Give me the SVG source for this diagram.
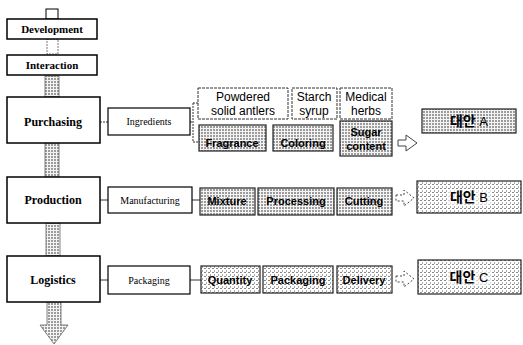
<svg xmlns="http://www.w3.org/2000/svg" width="523" height="345" viewBox="0 0 523 345">
<defs>
<pattern id="hatch" width="3" height="3" patternUnits="userSpaceOnUse"><rect width="3" height="3" fill="#f4f4f4"/><rect width="2" height="2" fill="#9c9c9c"/></pattern>
<pattern id="light" width="4" height="4" patternUnits="userSpaceOnUse"><rect width="4" height="4" fill="#fff"/><rect width="2" height="1" fill="#888"/><rect x="2" y="2" width="1" height="2" fill="#aaa"/></pattern>
</defs>
<style>
.main{fill:#fff;stroke:#000;stroke-width:1.5}
.mt{font-family:"Liberation Serif",serif;font-weight:bold;fill:#000;text-anchor:middle}
.sub{fill:#fff;stroke:#000;stroke-width:1.2}
.st{font-family:"Liberation Serif",serif;font-size:10px;fill:#000;text-anchor:middle}
.wb{fill:#fff;stroke:#333;stroke-width:1;stroke-dasharray:3 1}
.gb{fill:url(#hatch);stroke:#222;stroke-width:1.2}
.lb{fill:url(#light);stroke:#222;stroke-width:1.2}
.at{font-family:"Liberation Sans",sans-serif;font-size:12px;fill:#000;text-anchor:middle}
.bt{font-family:"Liberation Sans",sans-serif;font-size:11px;font-weight:bold;fill:#000;text-anchor:middle}
.kt{font-family:"Liberation Sans","Noto Sans CJK KR",sans-serif;font-size:13px;fill:#000;text-anchor:middle}
.ln{fill:none;stroke:#333;stroke-width:1}
.ha{fill:#fff;stroke:#444;stroke-width:1}
.vc{fill:url(#hatch);stroke:#666;stroke-width:0.8}
</style>
<g id="connectors">
<rect x="46" y="9" width="12" height="10" fill="#fff" stroke="#000" stroke-width="1"/>
<rect x="47" y="39" width="11" height="15" fill="#fff" stroke="#555" stroke-width="0.8" stroke-dasharray="2 1"/>
<rect class="vc" x="45" y="76" width="14" height="21"/>
<rect class="vc" x="45" y="143" width="14" height="34"/>
<rect class="vc" x="46" y="223" width="14" height="33"/>
<path class="vc" d="M47 302 H61 V325 H68 L54 344 L40 325 H47 Z"/>
<path class="ln" d="M100 122 H108 M190 122 H193 M193 103 V142 M193 103 H198 M193 142 H198" stroke-dasharray="2 1"/>
<path class="ln" d="M100 200 H108 M192 200 H200"/>
<path class="ln" d="M100 280 H108 M190 280 H201"/>
<path class="ha" d="M398 140 H406 V135 L417 143 L406 151 V146 H398 Z"/>
<path class="ha" d="M396 195 H404 V190 L414 198 L404 206 V201 H396 Z" stroke-dasharray="2 2"/>
<path class="ha" d="M396 276 H404 V271 L414 279 L404 287 V282 H396 Z" stroke-dasharray="2 2"/>
</g>
<g id="development"><rect class="main" x="7" y="19" width="90" height="20"/><text class="mt" x="52" y="33" font-size="11">Development</text></g>
<g id="interaction"><rect class="main" x="7" y="55" width="90" height="20"/><text class="mt" x="52" y="69" font-size="11">Interaction</text></g>
<g id="purchasing"><rect class="main" x="7" y="97" width="93" height="46"/><text class="mt" x="53" y="126" font-size="12">Purchasing</text></g>
<g id="production"><rect class="main" x="7" y="177" width="93" height="46"/><text class="mt" x="53" y="204" font-size="12">Production</text></g>
<g id="logistics"><rect class="main" x="7" y="256" width="93" height="46"/><text class="mt" x="53" y="284" font-size="12">Logistics</text></g>
<g id="ingredients"><rect class="sub" x="108" y="108" width="82" height="27"/><text class="st" x="149" y="125">Ingredients</text></g>
<g id="manufacturing"><rect class="sub" x="108" y="187" width="84" height="26"/><text class="st" x="150" y="204">Manufacturing</text></g>
<g id="packaging"><rect class="sub" x="108" y="266" width="82" height="28"/><text class="st" x="149" y="284">Packaging</text></g>
<g id="powdered"><rect class="wb" x="198" y="88" width="90" height="31"/><text class="at" x="243" y="101">Powdered</text><text class="at" x="243" y="115">solid antlers</text></g>
<g id="starch"><rect class="wb" x="292" y="88" width="45" height="31"/><text class="at" x="314" y="101">Starch</text><text class="at" x="314" y="115">syrup</text></g>
<g id="medical"><rect class="wb" x="340" y="88" width="52" height="31"/><text class="at" x="366" y="101">Medical</text><text class="at" x="366" y="115">herbs</text></g>
<g id="fragrance"><rect class="gb" x="199" y="125" width="67" height="26"/><text class="bt" x="232" y="147">Fragrance</text></g>
<g id="coloring"><rect class="gb" x="273" y="125" width="60" height="26"/><text class="bt" x="303" y="147">Coloring</text></g>
<g id="sugar"><rect class="gb" x="340" y="121" width="52" height="35"/><text class="bt" x="366" y="136">Sugar</text><text class="bt" x="366" y="150">content</text></g>
<g id="alt-a"><rect class="gb" x="422" y="109" width="94" height="24"/><text class="kt" x="469" y="126"><tspan font-weight="bold" font-size="14">대안</tspan> A</text></g>
<g id="mixture"><rect class="gb" x="200" y="188" width="55" height="27"/><text class="bt" x="227" y="205">Mixture</text></g>
<g id="processing"><rect class="gb" x="258" y="188" width="76" height="27"/><text class="bt" x="296" y="205">Processing</text></g>
<g id="cutting"><rect class="gb" x="337" y="188" width="55" height="27"/><text class="bt" x="364" y="205">Cutting</text></g>
<g id="alt-b"><rect class="lb" x="417" y="181" width="104" height="32"/><rect x="448" y="189" width="44" height="17" fill="#fff" opacity="0.6"/><text class="kt" x="469" y="202"><tspan font-weight="bold" font-size="14">대안</tspan> B</text></g>
<g id="quantity"><rect class="lb" x="201" y="266" width="59" height="27"/><text class="bt" x="230" y="284">Quantity</text></g>
<g id="packaging2"><rect class="lb" x="263" y="266" width="70" height="27"/><text class="bt" x="298" y="284">Packaging</text></g>
<g id="delivery"><rect class="lb" x="337" y="266" width="55" height="27"/><text class="bt" x="364" y="284">Delivery</text></g>
<g id="alt-c"><rect class="lb" x="418" y="260" width="103" height="34"/><rect x="448" y="269" width="44" height="17" fill="#fff" opacity="0.6"/><text class="kt" x="469" y="282"><tspan font-weight="bold" font-size="14">대안</tspan> C</text></g>
</svg>
